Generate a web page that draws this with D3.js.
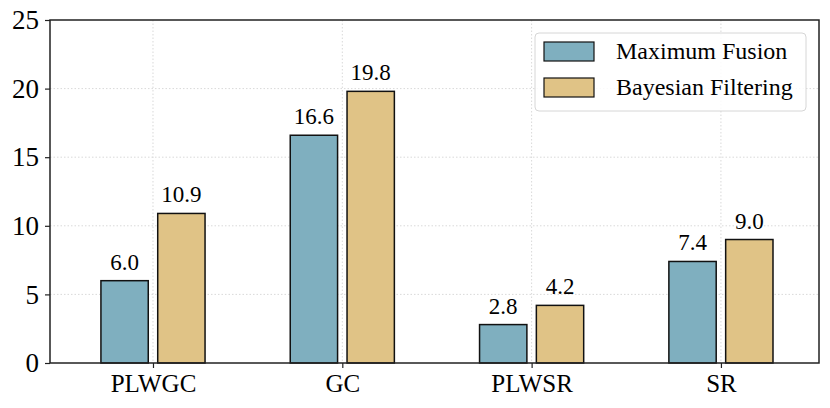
<!DOCTYPE html>
<html>
<head>
<meta charset="utf-8">
<script src="https://cdn.jsdelivr.net/npm/d3@7"></script>
<style>
  body { margin: 0; background: white; }
</style>
</head>
<body>
<div id="chart"></div>
<script>
const categories = ["PLWGC", "GC", "PLWSR", "SR"]
const seriesNames = ["Maximum Fusion", "Bayesian Filtering"]
const maxFusion = [6.0, 16.6, 2.8, 7.4]
const bayesFilter = [10.9, 19.8, 4.2, 9.0]
const yTicks = [0, 5, 10, 15, 20, 25]
const colors = ["#7fafbf", "#e0c386"]

const width = 830, height = 408
const plotLeft = 50, plotRight = 819, plotTop = 20, plotBottom = 363
const serif = "Liberation Serif"

let svg = d3.select("#chart").append("svg")
    .attr("width", width).attr("height", height)

let x = d3.scaleLinear().domain([-0.544, 3.518]).range([plotLeft, plotRight])
let y = d3.scaleLinear().domain([0, 25]).range([plotBottom, plotTop])

// grid
let grid = svg.append("g")
grid.selectAll(".gy").data(yTicks.slice(1, -1))
    .enter().append("line")
    .attr("x1", plotLeft).attr("x2", plotRight)
    .attr("y1", d => y(d)).attr("y2", d => y(d))
    .attr("stroke", "#d9d9d9").attr("stroke-width", 1)
    .attr("stroke-dasharray", "1.5,2")
grid.selectAll(".gx").data(categories)
    .enter().append("line")
    .attr("x1", (d, i) => x(i)).attr("x2", (d, i) => x(i))
    .attr("y1", plotTop).attr("y2", plotBottom)
    .attr("stroke", "#d9d9d9").attr("stroke-width", 1)
    .attr("stroke-dasharray", "1.5,2")

// bars
const barW = 0.25, offset = 0.15
let series = [maxFusion, bayesFilter]
series.forEach((vals, s) => {
    let g = svg.append("g")
    let dx = s == 0 ? -offset : offset
    g.selectAll("rect").data(vals)
        .enter().append("rect")
        .attr("x", (d, i) => x(i + dx - barW / 2))
        .attr("width", x(barW) - x(0))
        .attr("y", d => y(d))
        .attr("height", d => y(0) - y(d))
        .attr("fill", colors[s])
        .attr("stroke", "#111")
        .attr("stroke-width", 1.5)
    g.selectAll("text").data(vals)
        .enter().append("text")
        .attr("x", (d, i) => x(i + dx))
        .attr("y", d => y(d) - 11)
        .attr("text-anchor", "middle")
        .attr("font-family", serif)
        .attr("font-size", 23)
        .text(d => d.toFixed(1))
})

// axes
let yAxis = svg.append("g")
    .attr("transform", `translate(${plotLeft},0)`)
    .call(d3.axisLeft(y).tickValues(yTicks).tickSize(5).tickPadding(6))
yAxis.attr("font-family", serif).attr("font-size", 27)
yAxis.selectAll("text").attr("fill", "#000")
yAxis.select(".domain").remove()

let xAxis = svg.append("g")
    .attr("transform", `translate(0,${plotBottom})`)
    .call(d3.axisBottom(x).tickValues([0, 1, 2, 3]).tickFormat(i => categories[i]).tickSize(5).tickPadding(6))
xAxis.attr("font-family", serif).attr("font-size", 25)
xAxis.selectAll("text").attr("fill", "#000")
xAxis.select(".domain").remove()
svg.selectAll(".tick line").attr("stroke", "#222").attr("stroke-width", 1.2)

// frame
svg.append("rect")
    .attr("x", plotLeft).attr("y", plotTop)
    .attr("width", plotRight - plotLeft).attr("height", plotBottom - plotTop)
    .attr("fill", "none").attr("stroke", "#222").attr("stroke-width", 1.5)

// legend
let legend = svg.append("g")
legend.append("rect")
    .attr("x", 535).attr("y", 33).attr("width", 271).attr("height", 78)
    .attr("rx", 4).attr("fill", "white").attr("fill-opacity", 0.85)
    .attr("stroke", "#d6d6d6").attr("stroke-width", 1)
seriesNames.forEach((name, s) => {
    let yy = 42 + s * 36
    legend.append("rect")
        .attr("x", 544).attr("y", yy).attr("width", 50).attr("height", 19)
        .attr("fill", colors[s]).attr("stroke", "#111").attr("stroke-width", 1.2)
    legend.append("text")
        .attr("x", 616).attr("y", yy + 17)
        .attr("font-family", serif)
        .attr("font-size", 24)
        .text(name)
})
</script>
</body>
</html>
